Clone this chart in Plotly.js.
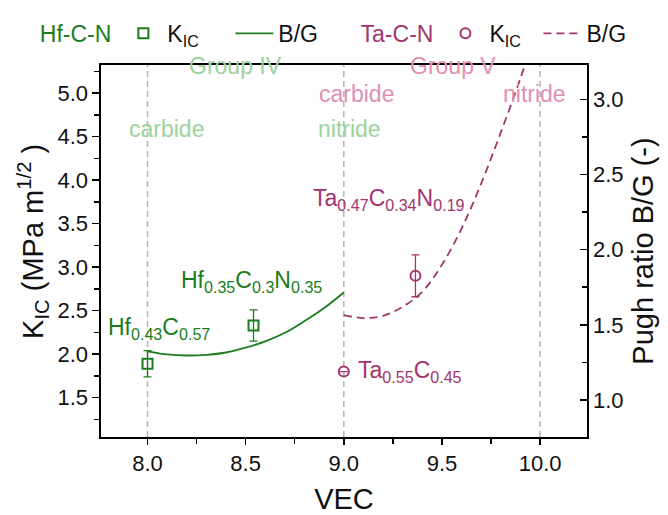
<!DOCTYPE html>
<html>
<head>
<meta charset="utf-8">
<script src="https://cdn.plot.ly/plotly-3.0.1.min.js"></script>
<style>html,body{margin:0;padding:0;background:#fff;}#chart{width:668px;height:515px;}</style>
</head>
<body>
<div id="chart"></div>
<script>
// ---- data ----
const hfKicVEC = [8.0, 8.54];
const hfKic = [1.89, 2.33];
const hfKicErr = [0.15, 0.18];
const hfBGVEC = [8.0, 8.1, 8.2, 8.3, 8.4, 8.5, 8.6, 8.7, 8.8, 8.9, 9.0];
const hfBG = [1.324, 1.303, 1.296, 1.300, 1.316, 1.348, 1.390, 1.447, 1.525, 1.612, 1.715];

const taKicVEC = [9.0, 9.365];
const taKic = [1.80, 2.90];
const taKicErr = [null, 0.24];
const taBGVEC = [9.0, 9.1, 9.2, 9.3, 9.4, 9.5, 9.6, 9.7, 9.8, 9.9, 9.95];
const taBG = [1.565, 1.545, 1.560, 1.620, 1.720, 1.900, 2.140, 2.440, 2.780, 3.140, 3.340];

const dividerVEC = [8, 9, 10];

const GREEN = '#1b7d1b';
const PURPLE = '#a3346e';
const LGREEN = '#9bd49b';
const PINK = '#e28fb4';
const FONT = 'Liberation Sans, Arial, sans-serif';

const traces = [
  {x: hfKicVEC, y: hfKic, type: 'scatter', mode: 'markers', name: 'K<sub>IC</sub>', legend: 'legend',
   marker: {symbol: 'square-open', size: 10, color: GREEN, line: {width: 2, color: GREEN}},
   error_y: {type: 'data', array: hfKicErr, visible: true, color: GREEN, thickness: 1.3, width: 4}},
  {x: hfBGVEC, y: hfBG, type: 'scatter', mode: 'lines', name: 'B/G', legend: 'legend', yaxis: 'y2',
   line: {color: GREEN, width: 1.8, shape: 'spline'}},
  {x: taKicVEC, y: taKic, type: 'scatter', mode: 'markers', name: 'K<sub>IC</sub>', legend: 'legend2',
   marker: {symbol: 'circle-open', size: 10, color: PURPLE, line: {width: 2, color: PURPLE}},
   error_y: {type: 'data', array: taKicErr, visible: true, color: PURPLE, thickness: 1.3, width: 4}},
  {x: taBGVEC, y: taBG, type: 'scatter', mode: 'lines', name: 'B/G', legend: 'legend2', yaxis: 'y2',
   line: {color: PURPLE, width: 1.8, dash: '8px,5px', shape: 'spline'}}
];

function ann(text, x, y, color) {
  return {text: text, x: x, y: y, xref: 'x', yref: 'y', showarrow: false,
          xanchor: 'center', yanchor: 'middle', font: {family: FONT, size: 23, color: color}};
}

const annotations = [
  ann('Group IV', 8.449, 5.315, LGREEN),
  ann('carbide', 8.095, 4.585, LGREEN),
  ann('nitride', 9.031, 4.585, LGREEN),
  ann('carbide', 9.067, 4.99, PINK),
  ann('Group V', 9.554, 5.315, PINK),
  ann('nitride', 9.971, 4.99, PINK),
  ann('Ta<sub>0.47</sub>C<sub>0.34</sub>N<sub>0.19</sub>', 9.229, 3.782, PURPLE),
  ann('Hf<sub>0.35</sub>C<sub>0.3</sub>N<sub>0.35</sub>', 8.531, 2.831, GREEN),
  ann('Hf<sub>0.43</sub>C<sub>0.57</sub>', 8.056, 2.297, GREEN),
  ann('Ta<sub>0.55</sub>C<sub>0.45</sub>', 9.335, 1.798, PURPLE),
  {text: 'K<sub>IC</sub> (MPa m<sup>1/2</sup> )', xref: 'paper', yref: 'paper', x: -0.14, y: 0.527,
   xanchor: 'center', yanchor: 'middle', textangle: -90, showarrow: false,
   font: {family: FONT, size: 29, color: '#111'}}
];

const shapes = dividerVEC.map(v => ({type: 'line', xref: 'x', yref: 'paper', x0: v, x1: v, y0: 0, y1: 1,
  layer: 'below', line: {color: '#b4b4b4', width: 1.5, dash: '6px,4px'}}));

const axisCommon = {showline: true, linecolor: '#000', linewidth: 1.6, showgrid: false, zeroline: false,
  tickfont: {family: FONT, size: 22, color: '#111'}, tickformat: '.1f', tickcolor: '#000', tickwidth: 1.5};

const layout = {
  width: 668, height: 515,
  margin: {l: 101, r: 81, t: 56, b: 78},
  paper_bgcolor: '#fff', plot_bgcolor: '#fff',
  font: {family: FONT, color: '#111'},
  xaxis: Object.assign({}, axisCommon, {
    range: [7.763, 10.239], dtick: 0.5, tick0: 8, ticks: 'outside', ticklen: 6, mirror: true,
    minor: {dtick: 0.25, ticks: 'outside', ticklen: 5, tickcolor: '#000', tickwidth: 1.5},
    title: {text: 'VEC', font: {family: FONT, size: 29, color: '#111'}, standoff: 17}
  }),
  yaxis: Object.assign({}, axisCommon, {
    range: [1.048, 5.323], dtick: 0.5, tick0: 1.5, ticks: 'outside', ticklen: 7,
    minor: {dtick: 0.25, ticks: 'outside', ticklen: 5, tickcolor: '#000', tickwidth: 1.5}
  }),
  yaxis2: Object.assign({}, axisCommon, {
    overlaying: 'y', side: 'right',
    range: [0.754, 3.228], dtick: 0.5, tick0: 1.0, ticks: 'inside', ticklen: 7,
    minor: {dtick: 0.25, ticks: 'inside', ticklen: 5, tickcolor: '#000', tickwidth: 1.5},
    title: {text: 'Pugh ratio B/G (-)', font: {family: FONT, size: 29, color: '#111'}, standoff: 10}
  }),
  legend: {orientation: 'h', x: -0.13, y: 1.085, xanchor: 'left', yanchor: 'middle', itemwidth: 38,
    entrywidth: 58, entrywidthmode: 'pixels',
    bgcolor: 'rgba(0,0,0,0)', borderwidth: 0, traceorder: 'normal',
    font: {family: FONT, size: 23, color: '#111'},
    title: {text: 'Hf-C-N', side: 'left', font: {family: FONT, size: 23, color: GREEN}}},
  legend2: {orientation: 'h', x: 0.53, y: 1.085, xanchor: 'left', yanchor: 'middle', itemwidth: 38,
    entrywidth: 44, entrywidthmode: 'pixels',
    bgcolor: 'rgba(0,0,0,0)', borderwidth: 0, traceorder: 'normal',
    font: {family: FONT, size: 23, color: '#111'},
    title: {text: 'Ta-C-N', side: 'left', font: {family: FONT, size: 23, color: PURPLE}}},
  annotations: annotations,
  shapes: shapes,
  showlegend: true
};

Plotly.newPlot('chart', traces, layout, {displayModeBar: false, staticPlot: true});
</script>
</body>
</html>
